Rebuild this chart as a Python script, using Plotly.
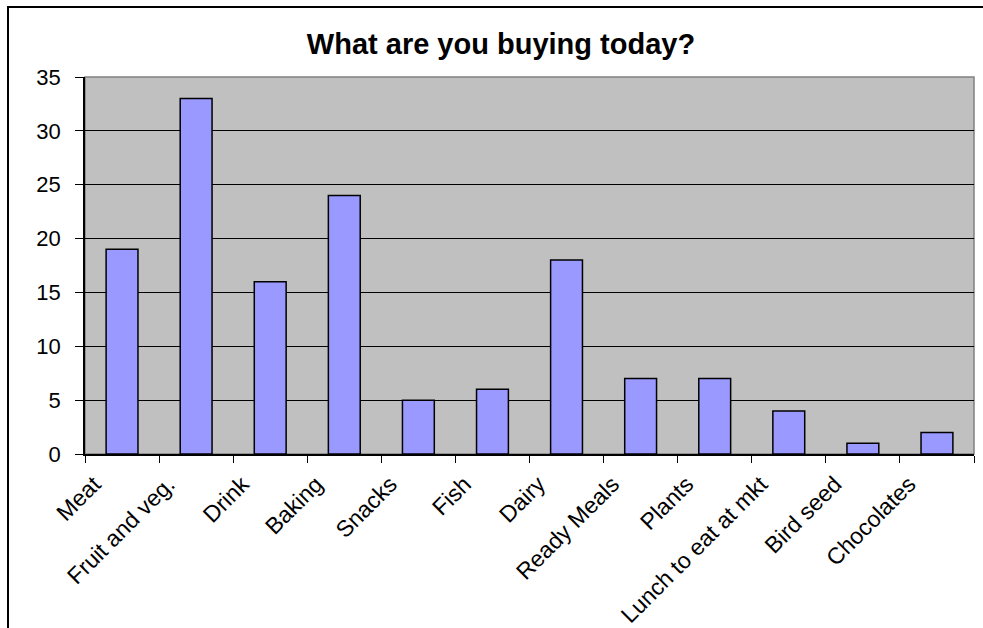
import plotly.graph_objects as go

categories = ["Meat", "Fruit and veg.", "Drink", "Baking", "Snacks", "Fish", "Dairy",
              "Ready Meals", "Plants", "Lunch to eat at mkt", "Bird seed", "Chocolates"]
values = [19, 33, 16, 24, 5, 6, 18, 7, 7, 4, 1, 2]
y_ticks = [0, 5, 10, 15, 20, 25, 30, 35]
title_text = "What are you buying today?"

W, H = 983, 628
L, R, T, B = 85, 9, 77, 174
pw, ph = W - L - R, H - T - B

fig = go.Figure(go.Bar(
    x=categories, y=values,
    marker=dict(color="#9999FF", line=dict(color="black", width=1.5)),
))

def px_x(p):
    return (p - L) / pw

def px_y(p):
    return (H - B - p) / ph

fig.update_layout(
    width=W, height=H,
    margin=dict(l=L, r=R, t=T, b=B, autoexpand=False),
    paper_bgcolor="white",
    plot_bgcolor="#C0C0C0",
    bargap=0.57,
    showlegend=False,
    font=dict(family="Liberation Sans, Arial, sans-serif", color="black"),
    title=dict(text="<b>" + title_text + "</b>", x=501 / W, xref="container", xanchor="center",
               y=1 - 44 / H, yref="container", yanchor="middle",
               font=dict(size=29, color="black")),
    shapes=[
        dict(type="rect", xref="paper", yref="paper", x0=0, x1=1, y0=0, y1=1,
             line=dict(color="#808080", width=1.5), layer="below"),
        dict(type="rect", xref="paper", yref="paper", x0=px_x(8), x1=px_x(1000),
             y0=px_y(650), y1=px_y(7), line=dict(color="black", width=2), layer="above"),
    ],
)

fig.update_xaxes(
    type="category", tickson="boundaries", ticks="outside", ticklen=7, tickcolor="black",
    tickwidth=1, showline=True, linecolor="black", linewidth=1.5, showgrid=False,
    tickangle=-45, tickfont=dict(size=23, color="black"), ticklabelshift=-28,
    ticklabelstandoff=6,
)
fig.update_yaxes(
    range=[0, 35], tickvals=y_ticks, ticks="outside", ticklen=8, tickcolor="black",
    showline=True, linecolor="black", linewidth=1.5, showgrid=True, gridcolor="black",
    gridwidth=1, zeroline=False, tickfont=dict(size=22, color="black"),
    ticklabelstandoff=10,
)

fig.write_html("out.html", config={"displayModeBar": False},
               post_script="document.body.style.margin='0';document.body.style.overflow='hidden';")
